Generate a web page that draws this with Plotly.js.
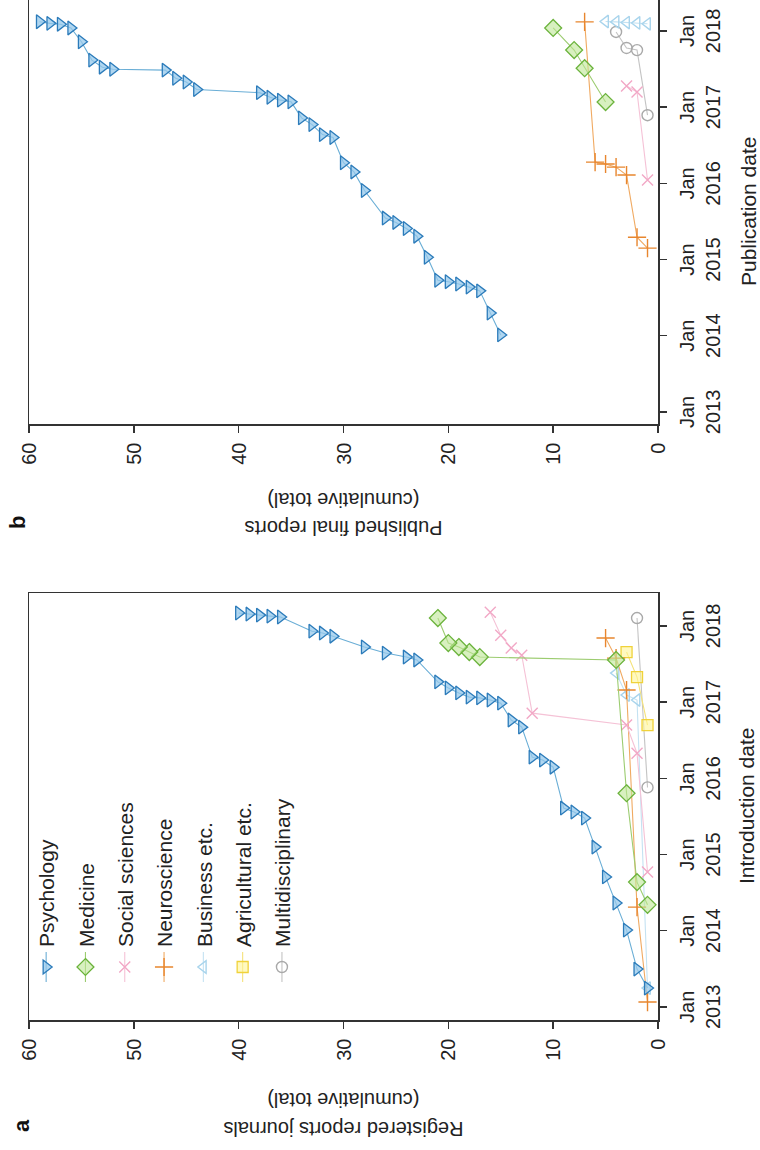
<!DOCTYPE html>
<html>
<head>
<meta charset="utf-8">
<script src="https://cdn.plot.ly/plotly-3.0.1.min.js"></script>
<style>
html, body { margin:0; padding:0; background:#ffffff; }
#wrap { position:relative; width:760px; height:1150px; overflow:hidden; background:#fff; }
#chart { position:absolute; left:0; top:0; width:1150px; height:760px;
  transform-origin:0 0; transform:translateY(1150px) rotate(-90deg); }
</style>
</head>
<body>
<div id="wrap"><div id="chart"></div></div>
<script>
// ---------- Panel a: registered reports journals (introduction date) ----------
const psychA_dates = ['2013-04-01','2013-07-01','2014-01-04','2014-05-14','2014-09-16','2015-02-06','2015-06-25','2015-07-24','2015-08-12','2016-02-24','2016-03-29','2016-04-12','2016-09-03','2016-10-07','2016-12-27','2017-01-11','2017-01-21','2017-01-25','2017-02-14','2017-03-10','2017-04-08','2017-07-22','2017-08-05','2017-08-24','2017-09-22','2017-11-13','2017-11-28','2017-12-07','2018-02-13','2018-02-17','2018-02-22','2018-02-27','2018-03-04'];
const psychA_vals  = [1,2,3,4,5,6,7,8,9,10,11,12,13,14,15,16,17,18,19,20,21,23,24,26,28,31,32,33,36,37,38,39,40];

const medA_dates = ['2014-05-05','2014-08-22','2015-10-22','2017-07-22','2017-08-05','2017-08-29','2017-09-22','2017-10-11','2018-02-08'];
const medA_vals  = [1,2,3,4,17,18,19,20,21];

const socA_dates = ['2014-10-10','2016-05-01','2016-09-13','2016-11-09','2017-08-14','2017-09-17','2017-11-18','2018-03-08'];
const socA_vals  = [1,2,3,12,13,14,15,16];

const neuA_dates = ['2013-01-24','2014-04-24','2017-02-28','2017-07-31','2017-11-04'];
const neuA_vals  = [1,2,3,4,5];

const busA_dates = ['2013-04-01','2017-01-11','2017-02-04','2017-05-20'];
const busA_vals  = [1,2,3,4];

const agrA_dates = ['2016-09-13','2017-05-01','2017-08-29'];
const agrA_vals  = [1,2,3];

const mulA_dates = ['2015-11-19','2018-02-08'];
const mulA_vals  = [1,2];

// ---------- Panel b: published final reports (publication date) ----------
const psychB_dates = ['2014-01-05','2014-04-20','2014-08-04','2014-08-22','2014-09-06','2014-09-17','2014-09-24','2015-01-12','2015-04-23','2015-05-30','2015-06-28','2015-07-19','2015-11-28','2016-02-25','2016-04-09','2016-08-08','2016-08-22','2016-10-09','2016-11-10','2017-01-26','2017-02-03','2017-02-17','2017-03-11','2017-03-26','2017-05-01','2017-05-19','2017-06-27','2017-07-01','2017-07-11','2017-08-14','2017-11-10','2018-01-15','2018-02-02','2018-02-06','2018-02-14'];
const psychB_vals  = [15,16,17,18,19,20,21,22,23,24,25,26,28,29,30,31,32,33,34,35,36,37,38,44,45,46,47,52,53,54,55,56,57,58,59];

const medB_dates = ['2017-01-25','2017-07-06','2017-10-01','2018-01-15'];
const medB_vals  = [5,7,8,10];

const socB_dates = ['2016-01-17','2017-03-14','2017-04-12'];
const socB_vals  = [1,2,3];

const neuB_dates = ['2015-02-25','2015-04-18','2016-02-10','2016-03-19','2016-04-03','2016-04-12','2018-02-13'];
const neuB_vals  = [1,2,3,4,5,6,7];

const busB_dates = ['2018-02-04','2018-02-08','2018-02-10','2018-02-13','2018-02-15'];
const busB_vals  = [1,2,3,4,5];

const mulB_dates = ['2016-11-23','2017-10-01','2017-10-11','2017-12-27'];
const mulB_vals  = [1,2,3,4];

const categories = ['Psychology','Medicine','Social sciences','Neuroscience','Business etc.','Agricultural etc.','Multidisciplinary'];
const yearTicks = ['2013-01-01','2014-01-01','2015-01-01','2016-01-01','2017-01-01','2018-01-01'];
const yearTickText = ['Jan<br>2013','Jan<br>2014','Jan<br>2015','Jan<br>2016','Jan<br>2017','Jan<br>2018'];
const valueTicks = [0,10,20,30,40,50,60];

// ---------- styles ----------
const styles = {
  'Psychology':        {symbol:'triangle-down', size:12, color:'rgba(150,200,235,0.75)', edge:'#2b7bba', line:'#6aaed6'},
  'Medicine':          {symbol:'diamond', size:13, color:'rgba(190,230,150,0.6)', edge:'#6bb33c', line:'#9ccc70'},
  'Social sciences':   {symbol:'x-thin-open', size:11, color:'#f2a8c6', edge:'#f2a8c6', line:'#f5c2d6'},
  'Neuroscience':      {symbol:'cross-thin-open', size:13, color:'#e8862e', edge:'#e8862e', line:'#f0aa62'},
  'Business etc.':     {symbol:'triangle-up-open', size:11, color:'#a8d4ec', edge:'#a8d4ec', line:'#c4e2f2'},
  'Agricultural etc.': {symbol:'square', size:11, color:'rgba(255,245,150,0.6)', edge:'#f0d23a', line:'#f5e27a'},
  'Multidisciplinary': {symbol:'circle-open', size:11, color:'#a9a9a9', edge:'#a9a9a9', line:'#c4c4c4'}
};

function mk(name, x, y, xa, ya, showleg) {
  const s = styles[name];
  const open = s.symbol.indexOf('open') >= 0;
  return {
    type:'scatter', mode:'lines+markers', name:name, x:x, y:y,
    xaxis:xa, yaxis:ya, showlegend:showleg, legendgroup:name,
    legendrank: categories.indexOf(name) + 1,
    line:{color:s.line, width:1.1},
    marker:{symbol:s.symbol, size:s.size, color:open ? s.edge : s.color,
            line:{color:s.edge, width:open ? 1.4 : 1.3}},
    cliponaxis:false
  };
}

const traces = [
  mk('Multidisciplinary', mulA_dates, mulA_vals, 'x', 'y', true),
  mk('Agricultural etc.', agrA_dates, agrA_vals, 'x', 'y', true),
  mk('Business etc.', busA_dates, busA_vals, 'x', 'y', true),
  mk('Neuroscience', neuA_dates, neuA_vals, 'x', 'y', true),
  mk('Social sciences', socA_dates, socA_vals, 'x', 'y', true),
  mk('Medicine', medA_dates, medA_vals, 'x', 'y', true),
  mk('Psychology', psychA_dates, psychA_vals, 'x', 'y', true),
  mk('Multidisciplinary', mulB_dates, mulB_vals, 'x2', 'y2', false),
  mk('Business etc.', busB_dates, busB_vals, 'x2', 'y2', false),
  mk('Neuroscience', neuB_dates, neuB_vals, 'x2', 'y2', false),
  mk('Social sciences', socB_dates, socB_vals, 'x2', 'y2', false),
  mk('Medicine', medB_dates, medB_vals, 'x2', 'y2', false),
  mk('Psychology', psychB_dates, psychB_vals, 'x2', 'y2', false)
];

const FAM = '"Liberation Sans", Arial, Helvetica, sans-serif';
const font = {family:FAM, size:20, color:'#222'};
const W = 1150, H = 760;

function dateAxis(domain, range) {
  return {
    type:'date', domain:domain, range:range,
    tickmode:'array', tickvals:yearTicks, ticktext:yearTickText,
    ticks:'outside', ticklen:7, tickwidth:1.4, tickcolor:'#333',
    showline:true, mirror:true, linecolor:'#333', linewidth:1.5,
    showgrid:false, zeroline:false, tickfont:font, ticklabelstandoff:3
  };
}
function valAxis(anchor) {
  return {
    range:[0,60], domain:[(H-658)/H, (H-29)/H], anchor:anchor,
    tickmode:'array', tickvals:valueTicks, ticktext:valueTicks.map(String),
    ticks:'outside', ticklen:7, tickwidth:1.4, tickcolor:'#333',
    showline:true, mirror:true, linecolor:'#333', linewidth:1.5,
    showgrid:false, zeroline:false, tickfont:font, ticklabelstandoff:6
  };
}

const layout = {
  width:W, height:H,
  margin:{l:0, r:0, t:0, b:0},
  paper_bgcolor:'#fff', plot_bgcolor:'#fff',
  font:font,
  xaxis: Object.assign(dateAxis([130/W, 557/W], ['2012-10-30','2018-06-08']), {anchor:'y'}),
  yaxis: valAxis('x'),
  xaxis2: Object.assign(dateAxis([726/W, 1], ['2012-11-04','2018-05-29']), {anchor:'y2'}),
  yaxis2: valAxis('x2'),
  showlegend:true,
  legend:{x:163/W, y:(H-26)/H, xanchor:'left', yanchor:'top', traceorder:'grouped',
          tracegroupgap:9, bgcolor:'rgba(0,0,0,0)', font:{family:FAM, size:21, color:'#222'}, itemwidth:30},
  annotations:[
    {text:'Introduction date', xref:'paper', yref:'paper', x:343.5/W, y:(H-746)/H, showarrow:false, xanchor:'center', yanchor:'middle', font:{family:FAM, size:21, color:'#222'}},
    {text:'Publication date', xref:'paper', yref:'paper', x:938/W, y:(H-748)/H, showarrow:false, xanchor:'center', yanchor:'middle', font:{family:FAM, size:21, color:'#222'}},
    {text:'Registered reports journals', xref:'paper', yref:'paper', x:21/W, y:(H-343.5)/H, textangle:-90, showarrow:false, xanchor:'center', yanchor:'middle', font:{family:FAM, size:20, color:'#222'}},
    {text:'(cumulative total)', xref:'paper', yref:'paper', x:50/W, y:(H-343.5)/H, textangle:-90, showarrow:false, xanchor:'center', yanchor:'middle', font:{family:FAM, size:20, color:'#222'}},
    {text:'Published final reports', xref:'paper', yref:'paper', x:622/W, y:(H-343.5)/H, textangle:-90, showarrow:false, xanchor:'center', yanchor:'middle', font:{family:FAM, size:20, color:'#222'}},
    {text:'(cumulative total)', xref:'paper', yref:'paper', x:650/W, y:(H-343.5)/H, textangle:-90, showarrow:false, xanchor:'center', yanchor:'middle', font:{family:FAM, size:20, color:'#222'}},
    {text:'<b>a</b>', xref:'paper', yref:'paper', x:24/W, y:(H-21)/H, showarrow:false, xanchor:'center', yanchor:'middle', font:{family:FAM, size:22, color:'#111'}},
    {text:'<b>b</b>', xref:'paper', yref:'paper', x:627/W, y:(H-17)/H, showarrow:false, xanchor:'center', yanchor:'middle', font:{family:FAM, size:22, color:'#111'}}
  ]
};

Plotly.newPlot('chart', traces, layout, {staticPlot:true, displayModeBar:false});
</script>
</body>
</html>
